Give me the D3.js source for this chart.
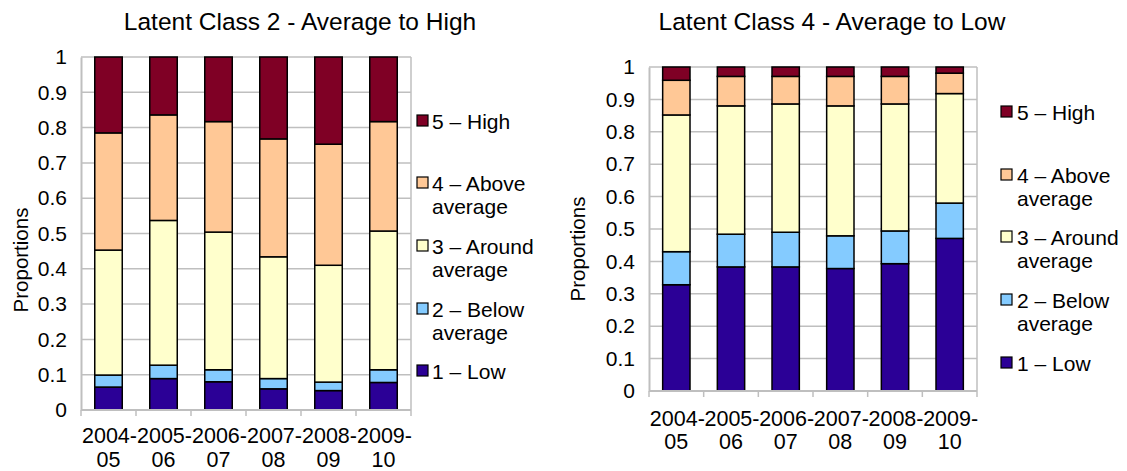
<!DOCTYPE html>
<html>
<head>
<meta charset="utf-8">
<script src="https://cdn.jsdelivr.net/npm/d3@7"></script>
<style>
  html, body { margin: 0; padding: 0; background: #fff; }
  svg { display: block; font-family: "Liberation Sans", Arial, sans-serif; }
</style>
</head>
<body>
<svg id="chart" width="1127" height="471"></svg>
<script>
// ---- data ----
const categories = ["2004-05", "2005-06", "2006-07", "2007-08", "2008-09", "2009-10"];
const seriesNames = ["1 – Low", "2 – Below average", "3 – Around average", "4 – Above average", "5 – High"];
const legendLines = [["1 – Low"], ["2 – Below", "average"], ["3 – Around", "average"], ["4 – Above", "average"], ["5 – High"]];
const seriesColors = ["#2b0096", "#84cbff", "#ffffcc", "#ffc896", "#7f0025"];
const yTicks = [0, 0.1, 0.2, 0.3, 0.4, 0.5, 0.6, 0.7, 0.8, 0.9, 1];

// Latent Class 2
const c2Low    = [0.065, 0.089, 0.080, 0.060, 0.055, 0.078];
const c2Below  = [0.034, 0.038, 0.034, 0.029, 0.024, 0.036];
const c2Around = [0.354, 0.410, 0.390, 0.345, 0.331, 0.393];
const c2Above  = [0.332, 0.299, 0.313, 0.334, 0.343, 0.310];
const c2High   = [0.215, 0.164, 0.183, 0.232, 0.247, 0.183];

// Latent Class 4
const c4Low    = [0.328, 0.383, 0.383, 0.378, 0.393, 0.471];
const c4Below  = [0.102, 0.101, 0.107, 0.101, 0.101, 0.109];
const c4Around = [0.422, 0.396, 0.396, 0.401, 0.392, 0.338];
const c4Above  = [0.107, 0.091, 0.085, 0.091, 0.085, 0.063];
const c4High   = [0.041, 0.029, 0.029, 0.029, 0.029, 0.019];

const titles = ["Latent Class 2 - Average to High", "Latent Class 4 - Average to Low"];
const yTitle = "Proportions";

// ---- layout ----
const panels = [
  { title: titles[0], series: [c2Low, c2Below, c2Around, c2Above, c2High],
    x0: 81, x1: 411, y0: 57, y1: 410, titleX: 300, ytX: 21, ytY: 260,
    lab1Y: 443, labGap: 24, legSwX: 417, legTxX: 432, legY: [371, 309, 246, 183, 121] },
  { title: titles[1], series: [c4Low, c4Below, c4Around, c4Above, c4High],
    x0: 649, x1: 977, y0: 67, y1: 391, titleX: 832, ytX: 578, ytY: 249,
    lab1Y: 426, labGap: 23, legSwX: 1001, legTxX: 1017, legY: [363, 300, 237, 175, 112] }
];

const svg = d3.select("#chart");
const gridColor = "#bfbfbf";

panels.forEach(p => {
  const g = svg.append("g");
  const x = d3.scaleBand().domain(categories).range([p.x0, p.x1]).paddingInner(0.5).paddingOuter(0.25);
  const y = d3.scaleLinear().domain([0, 1]).range([p.y1, p.y0]);

  // gridlines
  g.selectAll(".grid").data(yTicks).join("line")
    .attr("x1", p.x0).attr("x2", p.x1)
    .attr("y1", d => y(d)).attr("y2", d => y(d))
    .attr("stroke", gridColor).attr("stroke-width", 1.5);
  // right border
  g.append("line").attr("x1", p.x1).attr("x2", p.x1).attr("y1", p.y0).attr("y2", p.y1)
    .attr("stroke", gridColor).attr("stroke-width", 1.5);

  // y axis
  const yAxis = d3.axisLeft(y).tickValues(yTicks).tickSize(0).tickPadding(14)
    .tickFormat(d => d3.format("")(+d.toFixed(1)));
  const ya = g.append("g").attr("transform", `translate(${p.x0},0)`).call(yAxis);
  ya.select(".domain").attr("stroke", gridColor).attr("stroke-width", 2);
  ya.selectAll("text").attr("font-size", 21).attr("fill", "#000");

  // stacked bars
  const rows = categories.map((c, i) => {
    const o = { cat: c };
    seriesNames.forEach((s, k) => o[s] = p.series[k][i]);
    return o;
  });
  const stack = d3.stack().keys(seriesNames)(rows);
  stack.forEach((layer, k) => {
    g.append("g").selectAll("rect").data(layer).join("rect")
      .attr("x", d => x(d.data.cat))
      .attr("width", x.bandwidth())
      .attr("y", d => y(d[1]))
      .attr("height", d => y(d[0]) - y(d[1]))
      .attr("fill", seriesColors[k])
      .attr("stroke", "#000").attr("stroke-width", 1.5);
  });

  // x axis
  const boundaries = d3.range(categories.length + 1).map(i => p.x0 + i * x.step());
  g.append("line").attr("x1", p.x0).attr("x2", p.x1).attr("y1", p.y1).attr("y2", p.y1)
    .attr("stroke", gridColor).attr("stroke-width", 2);
  g.selectAll(".xt").data(boundaries).join("line")
    .attr("x1", d => d).attr("x2", d => d).attr("y1", p.y1).attr("y2", p.y1 + 6)
    .attr("stroke", gridColor).attr("stroke-width", 1.5);
  categories.forEach(c => {
    const parts = c.split("-");
    const t = g.append("text").attr("text-anchor", "middle").attr("font-size", 21.5).attr("fill", "#000");
    t.append("tspan").attr("x", x(c) + x.bandwidth() / 2 + 1).attr("y", p.lab1Y).text(parts[0] + "-");
    t.append("tspan").attr("x", x(c) + x.bandwidth() / 2).attr("y", p.lab1Y + p.labGap).text(parts[1]);
  });

  // title
  g.append("text").attr("x", p.titleX).attr("y", 30).attr("text-anchor", "middle")
    .attr("font-size", 24.5).attr("fill", "#000").text(p.title);

  // y title
  g.append("text").attr("transform", `translate(${p.ytX + 7},${p.ytY}) rotate(-90)`)
    .attr("text-anchor", "middle").attr("font-size", 20.5).attr("fill", "#000").text(yTitle);

  // legend
  legendLines.forEach((lines, k) => {
    const cy = p.legY[k];
    g.append("rect").attr("x", p.legSwX).attr("y", cy - 6).attr("width", 11).attr("height", 11)
      .attr("fill", seriesColors[k]).attr("stroke", "#000").attr("stroke-width", 1.2);
    const t = g.append("text").attr("font-size", 21).attr("fill", "#000");
    lines.forEach((ln, j) => {
      t.append("tspan").attr("x", p.legTxX).attr("y", cy + 7.5 + j * 23.5).text(ln);
    });
  });
});
</script>
</body>
</html>
